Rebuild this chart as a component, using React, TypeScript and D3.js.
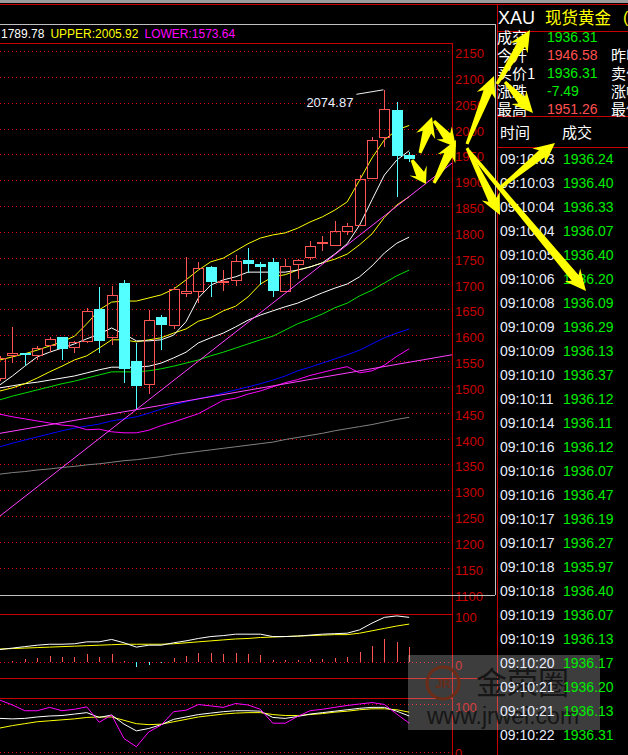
import React from 'react';
import * as d3 from 'd3';

const FONT = "'Liberation Sans', Arial, 'Noto Sans CJK SC', sans-serif";
const CJK = "'Noto Sans CJK SC', 'Liberation Sans', sans-serif";

// XAU candles, oldest -> newest
const OPEN = [1516.5, 1561.0, 1565.5, 1562.2, 1580.4, 1595.9, 1576.5, 1588.2, 1650.7, 1595.9, 1700.4, 1550.0, 1504.9, 1634.6, 1620.3, 1682.2, 1686.1, 1731.4, 1702.9, 1706.2, 1745.5, 1738.3, 1741.6, 1686.1, 1737.2, 1750.7, 1777.8, 1775.1, 1802.2, 1813.8, 1904.8, 1983.0, 2035.8, 1948.7];
const HIGH = [1559.7, 1615.8, 1566.0, 1579.1, 1595.9, 1596.5, 1588.7, 1652.0, 1692.7, 1695.2, 1706.8, 1584.3, 1648.7, 1638.5, 1693.8, 1750.7, 1741.0, 1733.0, 1726.1, 1754.6, 1768.1, 1742.2, 1748.8, 1746.9, 1747.0, 1782.3, 1792.0, 1821.0, 1817.7, 1909.4, 1984.1, 2074.87, 2051.9, 1954.5];
const LOW = [1511.0, 1546.2, 1540.3, 1552.0, 1568.0, 1552.0, 1566.1, 1584.3, 1566.1, 1581.0, 1507.4, 1455.2, 1486.2, 1571.3, 1612.5, 1674.5, 1662.9, 1674.5, 1685.5, 1695.2, 1720.9, 1697.1, 1674.5, 1683.6, 1708.1, 1745.5, 1763.5, 1774.5, 1793.9, 1813.3, 1904.0, 1964.8, 1866.9, 1934.6];
const CLOSE = [1555.3, 1564.9, 1562.2, 1575.2, 1592.0, 1572.7, 1586.2, 1646.8, 1589.3, 1677.2, 1533.6, 1502.2, 1629.4, 1620.3, 1689.4, 1685.5, 1729.4, 1702.0, 1704.9, 1743.0, 1738.3, 1732.9, 1686.1, 1733.9, 1745.5, 1772.6, 1780.3, 1801.6, 1811.3, 1902.8, 1977.2, 2037.2, 1946.8, 1940.4];

// overlay lines
const MA5 = [1504, 1521, 1540, 1558, 1567, 1575, 1583, 1593, 1602, 1614, 1602, 1589, 1589, 1591, 1600, 1626, 1672, 1697, 1707, 1713, 1722, 1722, 1722, 1722, 1726, 1732, 1740, 1757, 1777, 1813, 1862, 1910, 1939, 1957];
const MA10 = [1492, 1498, 1506, 1517, 1529, 1540, 1552, 1560, 1575, 1591, 1591, 1587, 1591, 1595, 1604, 1612, 1627, 1634, 1647, 1656, 1674, 1699, 1713, 1717, 1726, 1732, 1740, 1747, 1757, 1775, 1796, 1828, 1852, 1868];
const BOLL_MID = [1498, 1502, 1506, 1509, 1513, 1517, 1521, 1527, 1533, 1538, 1538, 1538, 1540, 1546, 1556, 1567, 1585, 1595, 1604, 1616, 1629, 1639, 1647, 1655, 1662, 1672, 1682, 1691, 1699, 1713, 1734, 1759, 1778, 1789.78];
const BOLL_UPPER = [1552, 1558, 1564, 1571, 1579, 1587, 1598, 1622, 1649, 1664, 1666, 1666, 1672, 1678, 1689, 1707, 1726, 1742, 1749, 1763, 1777, 1788, 1794, 1798, 1807, 1819, 1829, 1842, 1858, 1900, 1943, 1978, 1997, 2005.92];
const BOLL_LOWER = [1447, 1442, 1438, 1434, 1430, 1426, 1424, 1417, 1418, 1413, 1411, 1411, 1416, 1425, 1432, 1440, 1448, 1461, 1474, 1478, 1486, 1492, 1500, 1508, 1514, 1522, 1528, 1534, 1539, 1527, 1531, 1542, 1559, 1573.64];
const MA_GREEN = [1475, 1482, 1488, 1494, 1500, 1506, 1511, 1517, 1523, 1529, 1529, 1529, 1531, 1535, 1540, 1546, 1552, 1560, 1567, 1575, 1583, 1591, 1598, 1610, 1622, 1631, 1641, 1653, 1662, 1676, 1687, 1701, 1715, 1726];
const MA_BLUE = [1384, 1391, 1397, 1403, 1409, 1415, 1420, 1424, 1428, 1434, 1438, 1442, 1449, 1457, 1465, 1471, 1477, 1482, 1488, 1494, 1500, 1506, 1513, 1521, 1531, 1538, 1546, 1554, 1562, 1571, 1583, 1595, 1604, 1612];
const MA_GRAY = [1331, 1334, 1336, 1339, 1341, 1344, 1346, 1349, 1351, 1354, 1357, 1359, 1362, 1365, 1369, 1372, 1375, 1378, 1381, 1384, 1387, 1390, 1393, 1398, 1402, 1406, 1410, 1415, 1419, 1423, 1427, 1432, 1437, 1441];

// hand drawn trend lines: [candle index, price]
const TREND_STEEP = [[0, 1250], [36.45, 1933]];
const TREND_FLAT = [[0, 1410], [36.45, 1562]];

const PRICE_TICKS = [2150, 2100, 2050, 2000, 1950, 1900, 1850, 1800, 1750, 1700, 1650, 1600, 1550, 1500, 1450, 1400, 1350, 1300, 1250, 1200, 1150, 1100];

// sub panel 1
const P1_BAR = [0, 2, 6, 9, 13, 11, 11, 17, 11, 17, 2, -11, -6, -1.5, 9, 13, 19, 19, 17, 19, 17, 15, 4, 4, 4, 6, 6, 9, 11, 21, 34, 48, 42, 31];
const P1_WHITE = [26, 29, 32, 35, 37, 37, 38, 42, 42, 47, 40, 31, 35, 35, 40, 44, 49, 53, 55, 58, 58, 58, 53, 53, 54, 56, 58, 59, 60, 67, 81, 93, 96, 93];
const P1_YELLOW = [27, 28, 29, 30, 31, 32, 33, 34, 35, 36, 37, 37, 37, 37, 38, 40, 42, 44, 46, 48, 49, 51, 52, 53, 54, 55, 56, 57, 57, 60, 65, 70, 75, 79];

// sub panel 2 (KDJ)
const KDJ_K = [70, 69, 70, 73, 75, 76, 79, 82, 72, 77, 58, 44, 49, 57, 68, 73, 78, 81, 84, 86, 86, 85, 72, 70, 74, 79, 82, 85, 88, 91, 93, 93, 85, 75];
const KDJ_D = [50, 55, 59, 63, 65, 67, 69, 72, 73, 73, 66, 59, 57, 58, 63, 68, 73, 76, 79, 81, 82, 82, 78, 76, 76, 78, 80, 83, 85, 88, 90, 90, 88, 83];
const KDJ_J = [108, 98, 86, 86, 93, 86, 89, 94, 62, 77, 28, 11, 42, 56, 84, 87, 99, 96, 93, 101, 98, 89, 60, 60, 74, 86, 89, 93, 97, 100, 103, 99, 79, 60];

// quote panel
const PREV_CLOSE = 1943.80;
const INFO_LABELS = ['成交', '今开', '买价1', '涨跌', '最高'];
const INFO_VALUES = [1936.31, 1946.58, 1936.31, -7.49, 1951.26];
const INFO_RIGHT = ['', '昨收', '卖价1', '涨幅', '最低'];
const TICK_TIMES = ['09:10:03', '09:10:03', '09:10:04', '09:10:04', '09:10:05', '09:10:06', '09:10:08', '09:10:09', '09:10:09', '09:10:10', '09:10:11', '09:10:14', '09:10:16', '09:10:16', '09:10:16', '09:10:17', '09:10:17', '09:10:18', '09:10:18', '09:10:19', '09:10:19', '09:10:20', '09:10:21', '09:10:21', '09:10:22'];
const TICK_PRICES = ['1936.24', '1936.40', '1936.33', '1936.07', '1936.40', '1936.20', '1936.09', '1936.29', '1936.13', '1936.37', '1936.12', '1936.11', '1936.12', '1936.07', '1936.47', '1936.19', '1936.27', '1935.97', '1936.40', '1936.07', '1936.13', '1936.17', '1936.20', '1936.13', '1936.31'];

// yellow hand drawn arrows (tail x, tail y, tip x, tip y) in page pixels
const ARROWS = [
  [420, 153, 432, 117], [434, 121, 456, 147], [434, 183, 456, 140], [412, 160, 426, 184],
  [467, 144, 494, 76], [467, 148, 500, 215], [469, 151, 586, 291], [500, 188, 555, 143],
  [497, 84, 530, 30], [505, 82, 533, 113],
];

const RED = '#c80000';
const UP = '#ff5454';
const DOWN = '#54ffff';

function arrowPoints(a: number[]) {
  const [x1, y1, x2, y2] = a;
  const dx = x2 - x1, dy = y2 - y1, L = Math.hypot(dx, dy);
  const ux = dx / L, uy = dy / L, vx = -uy, vy = ux;
  const hl = Math.min(17, L * 0.42);
  const pts = [[0, -1.5], [L - hl, -4.5], [L - hl - 4, -10], [L, 0], [L - hl - 4, 10], [L - hl, 4.5], [0, 1.5]];
  return pts.map(([p, q]) => `${x1 + ux * p + vx * q},${y1 + uy * p + vy * q}`).join(' ');
}

export default function App() {
  const n = CLOSE.length;
  const x = d3.scaleLinear().domain([0, 33]).range([0, 409.2]);
  const y = d3.scaleLinear().domain([1100, 2150]).range([593.5, 51]);
  const y1 = d3.scaleLinear().domain([0, 100]).range([662, 614]);
  const y2 = d3.scaleLinear().domain([0, 100]).range([752, 704]);

  const lineOn = (ys: any) => d3.line<number>().x((_, i) => x(i)).y(v => ys(v));
  const mainLine = lineOn(y);
  const p1Line = lineOn(y1);
  const p2Line = lineOn(y2);
  const trend = d3.line<number[]>().x(d => x(d[0])).y(d => y(d[1]));

  const overlays = [
    { d: MA_GRAY, c: '#808080' },
    { d: MA_BLUE, c: '#0000ff' },
    { d: MA_GREEN, c: '#00e000' },
    { d: BOLL_LOWER, c: '#ff00ff' },
    { d: BOLL_MID, c: '#ffffff' },
    { d: MA10, c: '#ffff00' },
    { d: MA5, c: '#ffffff' },
    { d: BOLL_UPPER, c: '#ffff00' },
  ];

  const hiIdx = HIGH.indexOf(d3.max(HIGH) as number);
  const hx = x(hiIdx), hy = y(HIGH[hiIdx]);
  const gridTicks = PRICE_TICKS.filter(t => t > 1100);

  return (
    <svg width={628} height={755} style={{ position: 'absolute', left: 0, top: 0, background: '#000' }} fontFamily={FONT}>
      <defs>
        <clipPath id="mainClip"><rect x={0} y={44} width={452} height={551} /></clipPath>
        <clipPath id="p1Clip"><rect x={0} y={615} width={452} height={63} /></clipPath>
        <clipPath id="p2Clip"><rect x={0} y={699} width={452} height={56} /></clipPath>
      </defs>
      <rect x={0} y={0} width={628} height={755} fill="#000" />
      <rect x={0} y={0} width={628} height={3} fill="#9c9c9c" />

      {/* frame lines */}
      <g shapeRendering="crispEdges">
        <line x1={0} x2={628} y1={4.5} y2={4.5} stroke={RED} />
        <line x1={0} x2={495} y1={24.5} y2={24.5} stroke="#c0c0c0" />
        <line x1={495.5} x2={495.5} y1={24} y2={595} stroke="#c0c0c0" />
        <line x1={0} x2={452} y1={43.5} y2={43.5} stroke={RED} />
        <line x1={452.5} x2={452.5} y1={43} y2={755} stroke={RED} />
        <line x1={0} x2={452} y1={614.5} y2={614.5} stroke={RED} />
        <line x1={0} x2={497} y1={678.5} y2={678.5} stroke={RED} />
        <line x1={0} x2={452} y1={698.5} y2={698.5} stroke={RED} />
        <line x1={497.5} x2={497.5} y1={4} y2={755} stroke={RED} />
        <line x1={497} x2={628} y1={31.5} y2={31.5} stroke={RED} />
        <line x1={497} x2={628} y1={116.5} y2={116.5} stroke={RED} />
        <line x1={497} x2={628} y1={147.5} y2={147.5} stroke={RED} />
        {gridTicks.map(t => (
          <line key={t} x1={0} x2={452} y1={Math.round(y(t)) + 0.5} y2={Math.round(y(t)) + 0.5}
            stroke="#e00000" strokeDasharray="1 3" />
        ))}
        <line x1={0} x2={452} y1={Math.round(y1(0)) + 0.5} y2={Math.round(y1(0)) + 0.5} stroke="#e00000" strokeDasharray="1 3" />
        <line x1={0} x2={452} y1={Math.round(y2(100)) + 0.5} y2={Math.round(y2(100)) + 0.5} stroke="#e00000" strokeDasharray="1 3" />
        <line x1={0} x2={452} y1={Math.round(y2(0)) + 0.5} y2={Math.round(y2(0)) + 0.5} stroke="#e00000" strokeDasharray="1 3" />
      </g>

      {/* legend */}
      <text x={1} y={37.5} fontSize={12}>
        <tspan fill="#ffffff">{BOLL_MID[n - 1].toFixed(2)}</tspan>
        <tspan fill="#ffff00" dx={6}>UPPER:{BOLL_UPPER[n - 1].toFixed(2)}</tspan>
        <tspan fill="#ff00ff" dx={6}>LOWER:{BOLL_LOWER[n - 1].toFixed(2)}</tspan>
      </text>

      {/* price axis */}
      {PRICE_TICKS.map(t => (
        <text key={t} x={455} y={y(t) + 7} fontSize={13} fill={RED}>{t}</text>
      ))}
      <text x={455} y={y1(100) + 8} fontSize={13} fill={RED}>100</text>
      <text x={455} y={y1(0) + 8} fontSize={13} fill={RED}>0</text>
      <text x={455} y={y2(100) + 8} fontSize={13} fill={RED}>100</text>
      <text x={455} y={y2(0) + 6} fontSize={13} fill={RED}>0</text>

      {/* main chart */}
      <g clipPath="url(#mainClip)">
        {overlays.map((o, i) => (
          <path key={i} d={mainLine(o.d) as string} fill="none" stroke={o.c} strokeWidth={1} />
        ))}
        <g shapeRendering="crispEdges">
          {CLOSE.map((c, i) => {
            const cx = Math.round(x(i));
            const up = c >= OPEN[i];
            const top = Math.round(y(Math.max(c, OPEN[i])));
            const bot = Math.round(y(Math.min(c, OPEN[i])));
            const hi = Math.round(y(HIGH[i]));
            const lo = Math.round(y(LOW[i]));
            const col = up ? UP : DOWN;
            return (
              <g key={i}>
                <line x1={cx + 0.5} x2={cx + 0.5} y1={hi} y2={top} stroke={col} />
                <line x1={cx + 0.5} x2={cx + 0.5} y1={bot} y2={lo} stroke={col} />
                {up
                  ? <rect x={cx - 4.5} y={top + 0.5} width={10} height={Math.max(bot - top, 1)} fill="none" stroke={col} />
                  : <rect x={cx - 5} y={top} width={11} height={Math.max(bot - top, 2)} fill={col} />}
              </g>
            );
          })}
        </g>
        <path d={trend(TREND_FLAT) as string} stroke="#ff40ff" strokeWidth={1} fill="none" />
        <path d={trend(TREND_STEEP) as string} stroke="#ff40ff" strokeWidth={1} fill="none" />
        <polyline points={`${hx - 28},${hy + 4.5} ${hx - 1},${hy}`} fill="none" stroke="#f0f0f0" />
        <text x={hx - 31} y={hy + 17} fontSize={13} fill="#e8f0ff" textAnchor="end">{HIGH[hiIdx].toFixed(2)}</text>
      </g>
      <line x1={0} x2={495} y1={595.5} y2={595.5} stroke="#c0c0c0" shapeRendering="crispEdges" />

      {/* sub panel 1 */}
      <g clipPath="url(#p1Clip)">
        <g shapeRendering="crispEdges">
          {P1_BAR.map((v, i) => v === 0 ? null : (
            <line key={i} x1={Math.round(x(i)) + 0.5} x2={Math.round(x(i)) + 0.5} y1={y1(0)} y2={y1(v)}
              stroke={v > 0 ? UP : DOWN} />
          ))}
        </g>
        <path d={p1Line(P1_YELLOW) as string} fill="none" stroke="#ffff00" />
        <path d={p1Line(P1_WHITE) as string} fill="none" stroke="#ffffff" />
      </g>

      {/* sub panel 2 */}
      <g clipPath="url(#p2Clip)">
        <path d={p2Line(KDJ_D) as string} fill="none" stroke="#ffff00" />
        <path d={p2Line(KDJ_K) as string} fill="none" stroke="#ffffff" />
        <path d={p2Line(KDJ_J) as string} fill="none" stroke="#ff00ff" />
      </g>

      {/* quote panel */}
      <text x={498} y={23.5} fontSize={18} fill="#ffffff">XAU</text>
      <text x={545} y={23.5} fontSize={16.5} fill="#ffff00" fontFamily={CJK}>现货黄金</text>
      <text x={623} y={23} fontSize={16} fill="#ffff00">(</text>
      {INFO_LABELS.map((l, i) => {
        const cy = 37 + i * 18;
        const v = INFO_VALUES[i];
        const col = v < PREV_CLOSE ? '#00ee00' : '#ff5050';
        return (
          <g key={l}>
            <text x={497} y={cy + 5.5} fontSize={15} fill="#ffffff" fontFamily={CJK}>{l}</text>
            <text x={547} y={cy + 5} fontSize={14} fill={col}>{v.toFixed(2)}</text>
            <text x={611} y={cy + 5.5} fontSize={15} fill="#ffffff" fontFamily={CJK}>{INFO_RIGHT[i]}</text>
          </g>
        );
      })}
      <text x={500} y={137.5} fontSize={15} fill="#ffffff" fontFamily={CJK}>时间</text>
      <text x={562} y={137.5} fontSize={15} fill="#ffffff" fontFamily={CJK}>成交</text>

      {/* watermark */}
      <g>
        <rect x={408} y={655} width={192} height={75} fill="#ffffff" opacity={0.24} />
        <circle cx={443} cy={683} r={16} fill="none" stroke="#6b2c18" strokeWidth={3} />
        <text x={443} y={688} fontSize={12} fill="#6b2c18" textAnchor="middle" fontWeight="bold">JR</text>
        <text x={476} y={694} fontSize={31} fill="#161616" fontFamily={CJK}>金荣圈</text>
        <text x={427} y={724} fontSize={23} fill="#161616">www.jrwei.com</text>
      </g>

      {TICK_TIMES.map((t, i) => {
        const cy = 158.7 + i * 24;
        return (
          <g key={i}>
            <text x={500} y={cy + 5} fontSize={14} fill="#e8eefc">{t}</text>
            <text x={563} y={cy + 5} fontSize={14} fill="#00ee00">{TICK_PRICES[i]}</text>
          </g>
        );
      })}

      {/* arrows */}
      {ARROWS.map((a, i) => (
        <polygon key={i} points={arrowPoints(a)} fill="#ffff00" />
      ))}
    </svg>
  );
}
